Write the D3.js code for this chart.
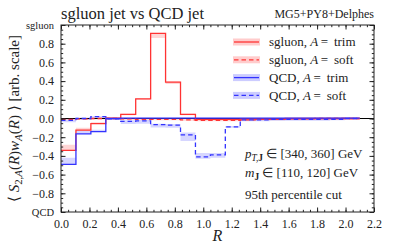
<!DOCTYPE html>
<html>
<head>
<meta charset="utf-8">
<script src="https://cdn.jsdelivr.net/npm/d3@7"></script>
<style>
  body { margin: 0; background: #fff; }
  svg { display: block; }
  text { font-family: "Liberation Serif", serif; fill: #222; }
</style>
</head>
<body>
<script>
// bin edges in R
var edges = [0, 0.105, 0.21, 0.315, 0.42, 0.525, 0.63, 0.735, 0.84, 0.945, 1.05,
             1.155, 1.26, 1.365, 1.47, 1.575, 1.68, 1.785, 1.89, 1.995, 2.1];

// sgluon, A = trim
var sgluonTrim   = [-0.34, -0.125, -0.055, 0.005, 0.045, 0.21, 0.91, 0.39, 0.045, -0.01, -0.01, -0.01, -0.005, -0.005, -0.005, 0, 0, 0, 0, 0];
var sgluonTrimLo = [-0.34, -0.13, -0.06, -0.005, 0.035, 0.2, 0.86, 0.37, 0.035, -0.015, -0.015, -0.015, -0.01, -0.01, -0.01, -0.005, -0.005, -0.005, -0.005, -0.005];
var sgluonTrimHi = [-0.28, -0.1, -0.04, 0.01, 0.05, 0.215, 0.91, 0.395, 0.05, -0.005, -0.005, -0.005, 0, 0, 0, 0.005, 0.005, 0.005, 0.005, 0.005];
// sgluon, A = soft
var sgluonSoft   = [-0.01, -0.005, 0, 0, -0.005, -0.01, -0.01, -0.01, -0.015, -0.02, -0.02, -0.02, -0.015, -0.01, -0.01, -0.005, -0.005, 0, 0, 0];
var sgluonSoftLo = [-0.02, -0.015, -0.01, -0.01, -0.015, -0.02, -0.02, -0.02, -0.025, -0.03, -0.03, -0.03, -0.025, -0.02, -0.02, -0.012, -0.012, -0.008, -0.008, -0.008];
var sgluonSoftHi = [0, 0.005, 0.008, 0.008, 0.003, 0, 0, 0, -0.005, -0.01, -0.01, -0.01, -0.005, 0, 0, 0.003, 0.003, 0.008, 0.008, 0.008];
// QCD, A = trim
var qcdTrim   = [-0.49, -0.165, -0.14, 0, 0.003, 0.003, 0.003, 0.003, 0.003, 0.003, 0.003, 0.003, 0.003, 0.003, 0.003, 0.003, 0.003, 0.003, 0.003, 0.003];
var qcdTrimLo = [-0.49, -0.165, -0.14, -0.004, -0.002, -0.002, -0.002, -0.002, -0.002, -0.002, -0.002, -0.002, -0.002, -0.002, -0.002, -0.002, -0.002, -0.002, -0.002, -0.002];
var qcdTrimHi = [-0.42, -0.135, -0.12, 0.004, 0.007, 0.007, 0.007, 0.007, 0.007, 0.007, 0.007, 0.007, 0.007, 0.007, 0.007, 0.007, 0.007, 0.007, 0.007, 0.007];
// QCD, A = soft
var qcdSoft   = [-0.02, 0, 0.02, -0.005, -0.03, -0.025, -0.065, -0.07, -0.175, -0.41, -0.39, -0.09, -0.015, -0.015, -0.01, -0.01, -0.01, -0.01, -0.01, 0];
var qcdSoftLo = [-0.04, -0.01, 0.005, -0.015, -0.06, -0.055, -0.095, -0.1, -0.24, -0.43, -0.42, -0.1, -0.03, -0.03, -0.025, -0.025, -0.025, -0.025, -0.02, -0.01];
var qcdSoftHi = [-0.01, 0.01, 0.025, 0.005, -0.02, -0.015, -0.055, -0.06, -0.15, -0.37, -0.37, -0.08, -0.005, -0.005, 0, 0, 0, 0, 0, 0.005];

var xTicks = [0, 0.2, 0.4, 0.6, 0.8, 1.0, 1.2, 1.4, 1.6, 1.8, 2.0, 2.2];
var yTicks = [-1, -0.8, -0.6, -0.4, -0.2, 0, 0.2, 0.4, 0.6, 0.8, 1];
var yEndLabels = {"1": "sgluon", "-1": "QCD"};

var legendItems = [
  {label: "sgluon", a: "trim", color: "#ff3333", band: "#ffcccc", dash: null},
  {label: "sgluon", a: "soft", color: "#ff3333", band: "#ffcccc", dash: "4.5,3"},
  {label: "QCD", a: "trim", color: "#3333ff", band: "#ccccff", dash: null},
  {label: "QCD", a: "soft", color: "#3333ff", band: "#ccccff", dash: "4.5,3"}
];

var width = 407, height = 249;
var margin = {left: 61, right: 33, top: 25, bottom: 37};
var w = width - margin.left - margin.right;
var h = height - margin.top - margin.bottom;

var svg = d3.select("body").append("svg")
    .attr("width", width)
    .attr("height", height);

var xScale = d3.scaleLinear().domain([0, 2.2]).range([0, w]);
var yScale = d3.scaleLinear().domain([-1, 1]).range([h, 0]);

var g = svg.append("g").attr("transform", "translate(" + margin.left + "," + margin.top + ")");

g.append("defs").append("clipPath").attr("id", "clip")
  .append("rect").attr("width", w).attr("height", h);

var plot = g.append("g").attr("clip-path", "url(#clip)");

function steps(vals) {
  var pts = vals.map(function(v, i) { return [edges[i], v]; });
  pts.push([edges[vals.length], vals[vals.length - 1]]);
  return pts;
}

var line = d3.line()
    .x(function(d) { return xScale(d[0]); })
    .y(function(d) { return yScale(d[1]); })
    .curve(d3.curveStepAfter);

function bandPts(lo, hi) {
  var pts = lo.map(function(v, i) { return [edges[i], v, hi[i]]; });
  pts.push([edges[lo.length], lo[lo.length - 1], hi[hi.length - 1]]);
  return pts;
}

var area = d3.area()
    .x(function(d) { return xScale(d[0]); })
    .y0(function(d) { return yScale(d[1]); })
    .y1(function(d) { return yScale(d[2]); })
    .curve(d3.curveStepAfter);

var series = [
  {v: sgluonTrim, lo: sgluonTrimLo, hi: sgluonTrimHi, item: legendItems[0]},
  {v: sgluonSoft, lo: sgluonSoftLo, hi: sgluonSoftHi, item: legendItems[1]},
  {v: qcdTrim, lo: qcdTrimLo, hi: qcdTrimHi, item: legendItems[2]},
  {v: qcdSoft, lo: qcdSoftLo, hi: qcdSoftHi, item: legendItems[3]}
];

// zero line
plot.append("line")
    .attr("x1", 0).attr("x2", w)
    .attr("y1", yScale(0)).attr("y2", yScale(0))
    .attr("stroke", "#000").attr("stroke-width", 1);

// bands
plot.selectAll("path.band")
  .data(series)
  .enter().append("path")
    .attr("class", "band")
    .attr("d", function(d) { return area(bandPts(d.lo, d.hi)); })
    .attr("fill", function(d) { return d.item.band; })
    .attr("fill-opacity", 0.8)
    .style("mix-blend-mode", "multiply");

// lines
plot.selectAll("path.step")
  .data(series)
  .enter().append("path")
    .attr("class", "step")
    .attr("d", function(d) { return line(steps(d.v)); })
    .attr("fill", "none")
    .attr("stroke", function(d) { return d.item.color; })
    .attr("stroke-width", 1.3)
    .attr("stroke-dasharray", function(d) { return d.item.dash; });

// axes, ticks inward on all four sides
var xMinor = d3.range(0, 2.2001, 0.05);
var yMinor = d3.range(-1, 1.0001, 0.05);

function addAxis(gen, scale, vals, size, tx, labels) {
  var ax = gen(scale).tickValues(vals).tickSize(size).tickPadding(7);
  if (!labels) ax.tickFormat("");
  var sel = g.append("g").attr("transform", tx).call(ax);
  sel.select(".domain").remove();
  sel.selectAll(".tick line").attr("stroke", "#222");
  return sel;
}

var xb = addAxis(d3.axisBottom, xScale, xTicks, -4.5, "translate(0," + h + ")", true);
xb.selectAll("text").text(function(d) { return d3.format(".1f")(d); });
addAxis(d3.axisBottom, xScale, xMinor, -2.2, "translate(0," + h + ")", false);
addAxis(d3.axisTop, xScale, xTicks, -4.5, "translate(0,0)", false);
addAxis(d3.axisTop, xScale, xMinor, -2.2, "translate(0,0)", false);

var yl = addAxis(d3.axisLeft, yScale, yTicks, -4.5, "translate(0,0)", true);
yl.selectAll("text").text(function(d) {
  var k = String(Math.round(d));
  if (Math.abs(d) === 1) return yEndLabels[k];
  return d3.format(".1f")(d);
});
addAxis(d3.axisLeft, yScale, yMinor, -2.2, "translate(0,0)", false);
addAxis(d3.axisRight, yScale, yTicks, -4.5, "translate(" + w + ",0)", false);
addAxis(d3.axisRight, yScale, yMinor, -2.2, "translate(" + w + ",0)", false);

g.selectAll(".tick text")
    .attr("font-family", "Liberation Serif, serif")
    .attr("font-size", 12)
    .attr("fill", "#222");
yl.selectAll(".tick text")
    .attr("font-size", function(d) { return Math.abs(d) === 1 ? 10.5 : 12; });

g.append("rect")
    .attr("width", w).attr("height", h)
    .attr("fill", "none").attr("stroke", "#222").attr("stroke-width", 1);

// rich text helper
function rich(sel, parts, size) {
  parts.forEach(function(p) {
    var t = sel.append("tspan").text(p.t);
    var fs = p.sub ? size * 0.72 : size;
    t.attr("font-size", fs);
    if (p.it) t.attr("font-style", "italic");
    if (p.dy) t.attr("dy", p.dy);
    if (p.b) t.attr("font-weight", "bold");
  });
  return sel;
}

// title and tag
svg.append("text")
    .attr("x", margin.left).attr("y", 19)
    .attr("font-size", 16.5)
    .text("sgluon jet vs QCD jet");

svg.append("text")
    .attr("x", margin.left + w).attr("y", 18)
    .attr("text-anchor", "end")
    .attr("font-family", "Liberation Mono, monospace")
    .attr("font-size", 12)
    .text("MG5+PY8+Delphes");

// x label
svg.append("text")
    .attr("x", margin.left + w / 2).attr("y", 241)
    .attr("text-anchor", "middle")
    .attr("font-size", 16)
    .attr("font-style", "italic")
    .text("R");

// y label
var ylab = svg.append("text")
    .attr("transform", "translate(19," + (margin.top + h / 2) + ") rotate(-90)")
    .attr("text-anchor", "middle");
rich(ylab, [
  {t: "\u27E8 "},
  {t: "S", it: true},
  {t: "2,", sub: true, dy: 3},
  {t: "A", sub: true, it: true},
  {t: "(", dy: -3},
  {t: "R", it: true},
  {t: ")"},
  {t: "w", it: true},
  {t: "A", sub: true, it: true, dy: 3},
  {t: "(", dy: -3},
  {t: "R", it: true},
  {t: ") \u27E9 [arb. scale]"}
], 15);

// legend
var leg = svg.append("g").attr("transform", "translate(233,42)");
var rowH = 17.8;
legendItems.forEach(function(d, i) {
  var r = leg.append("g").attr("transform", "translate(0," + (i * rowH) + ")");
  r.append("rect").attr("x", 0).attr("y", -3.5).attr("width", 27).attr("height", 7)
    .attr("fill", d.band);
  r.append("line").attr("x1", 1).attr("x2", 26).attr("y1", 0).attr("y2", 0)
    .attr("stroke", d.color).attr("stroke-width", 1.3)
    .attr("stroke-dasharray", d.dash);
  var t = r.append("text").attr("x", 36).attr("y", 4.3);
  rich(t, [
    {t: d.label + ", "},
    {t: "A", it: true},
    {t: "\u2009=\u2009" + " " + d.a}
  ], 13);
});

// annotations
var ann = svg.append("g").attr("transform", "translate(245,0)");
rich(ann.append("text").attr("y", 158), [
  {t: "p", it: true},
  {t: "T,", sub: true, it: true, dy: 3},
  {t: "J", sub: true, b: true},
  {t: " \u2208 [340, 360] GeV", dy: -3}
], 13);
rich(ann.append("text").attr("y", 177), [
  {t: "m", it: true},
  {t: "J", sub: true, b: true, dy: 3},
  {t: "  \u2208 [110, 120] GeV", dy: -3}
], 13);
ann.append("text").attr("y", 199).attr("font-size", 13).text("95th percentile cut");
</script>
</body>
</html>
